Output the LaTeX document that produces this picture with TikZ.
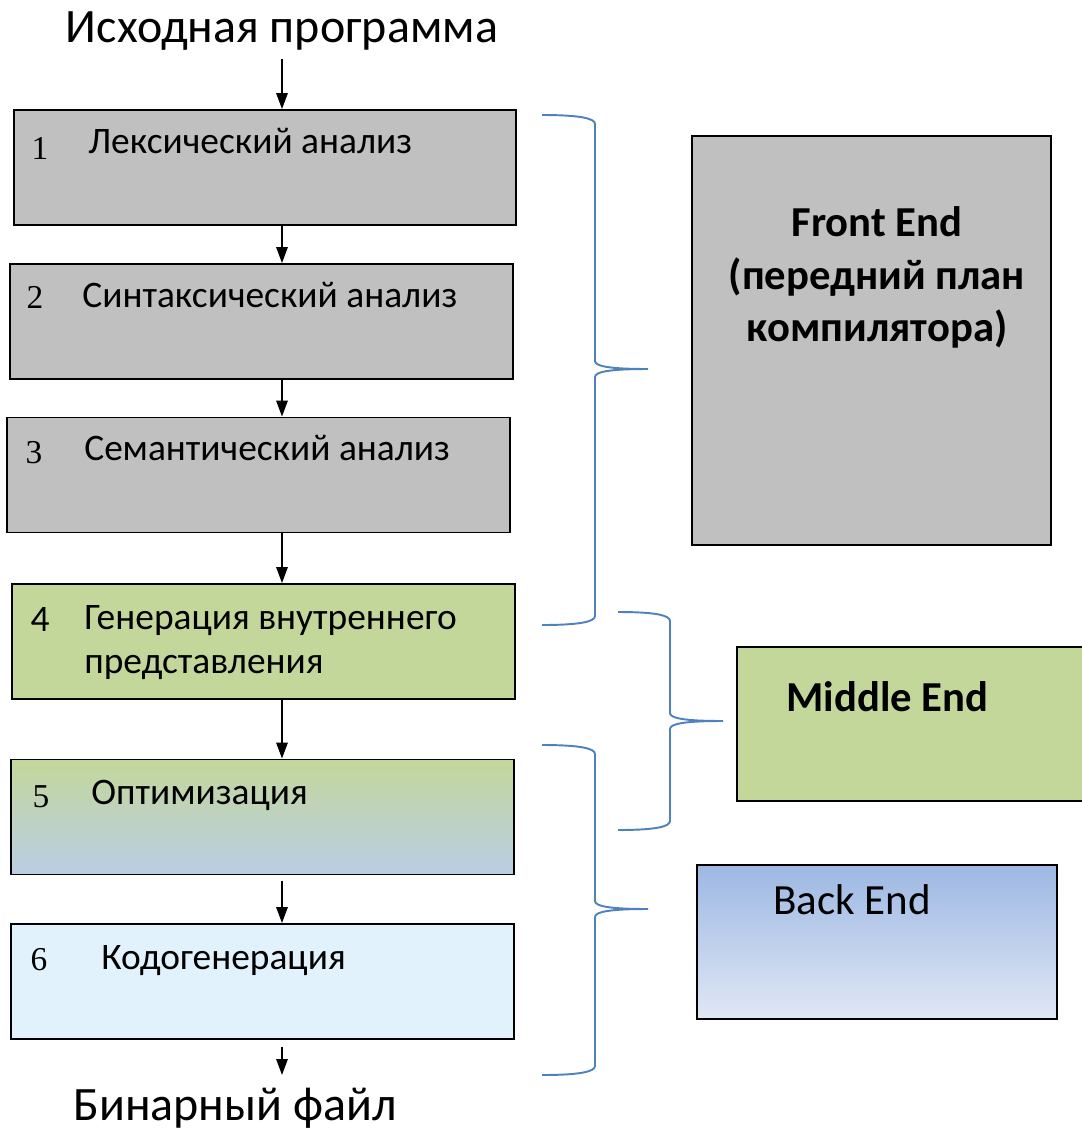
\documentclass[tikz,border=0pt]{standalone}
\usepackage{fontspec}
\setmainfont{Carlito}
\newfontfamily\numfont{Liberation Serif}
\usetikzlibrary{arrows.meta}

\definecolor{stagegray}{HTML}{C0C0C0}
\definecolor{stagegreen}{HTML}{C4D79B}
\definecolor{stageblue}{HTML}{B9CDE5}
\definecolor{stagesky}{HTML}{E1F2FC}
\definecolor{backtop}{HTML}{9DB8E3}
\definecolor{backbottom}{HTML}{E0E7F5}
\definecolor{bracecol}{HTML}{4F81BD}

\begin{document}
\begin{tikzpicture}[
    x=0.02cm, y=-0.02cm,
    stage/.style={rectangle, draw, line width=1.1pt, minimum width=10.06cm, minimum height=2.3cm, inner sep=0pt},
    part/.style={rectangle, draw, line width=1.1pt, minimum height=3.08cm, inner sep=0pt},
    num/.style={anchor=base, font=\numfont\fontsize{19}{21}\selectfont, inner sep=0pt},
    txt/.style={anchor=base west, font=\fontsize{21.3}{24.5}\selectfont, inner sep=0pt, align=left},
    big/.style={anchor=base, font=\fontsize{27.3}{31}\selectfont, inner sep=0pt},
    head/.style={anchor=base, font=\bfseries\fontsize{24.3}{29.6}\selectfont, inner sep=0pt, align=center},
    arrow/.style={-{Triangle[width=6.5pt,length=9pt]}, line width=0.8pt},
    brace/.style={bracecol, line width=1.1pt}
]

\useasboundingbox (0,0) rectangle (1082,1130);

% Input and output
\node[big] (src) at (282,42) {Исходная программа};
\node[big] (bin) at (235,1120) {Бинарный файл};

%==============================================================================
% Compiler phases
%==============================================================================
\node[stage, fill=stagegray] (lex) at (265,167.5) {};
\node[stage, fill=stagegray] (syn) at (261.5,321.5) {};
\node[stage, fill=stagegray] (sem) at (258.5,475) {};
\node[stage, fill=stagegreen] (ir) at (263.5,641.5) {};
\node[stage, top color=stagegreen, bottom color=stageblue] (opt) at (262.5,817) {};
\node[stage, fill=stagesky] (gen) at (262.5,981.5) {};

% Phase numbers and names
\node[num] (n1) at (40,159) {1};
\node[txt] (t1) at (88,153) {Лексический анализ};
\node[num] (n2) at (35,308) {2};
\node[txt] (t2) at (82,307) {Синтаксический анализ};
\node[num] (n3) at (34,463) {3};
\node[txt] (t3) at (84,460) {Семантический анализ};
\node[txt, anchor=base] (n4) at (40,631) {4};
\node[txt] (t4) at (84,673) {Генерация внутреннего\\представления};
\node[num] (n5) at (41,807) {5};
\node[txt] (t5) at (91,804) {Оптимизация};
\node[num] (n6) at (39,970) {6};
\node[txt] (t6) at (101,969) {Кодогенерация};

% Arrows between phases
\draw[arrow, shorten <=5pt] (src.south) -- (lex.north -| src.south);
\draw[arrow] (lex.south -| src.south) -- (syn.north -| src.south);
\draw[arrow] (syn.south -| src.south) -- (sem.north -| src.south);
\draw[arrow] (sem.south -| src.south) -- (ir.north -| src.south);
\draw[arrow] (ir.south -| src.south) -- (opt.north -| src.south);
\draw[arrow, shorten <=3pt] (opt.south -| src.south) -- (gen.north -| src.south);
\draw[arrow, shorten <=4pt, shorten >=7pt] (gen.south -| src.south) -- (bin.north -| src.south);

%==============================================================================
% Compiler parts
%==============================================================================
\node[part, fill=stagegray, minimum width=7.18cm, minimum height=8.18cm] (front) at (871.5,340.5) {};
\node[part, fill=stagegreen, minimum width=6.94cm] (middle) at (910.5,724) {};
\node[part, top color=backtop, bottom color=backbottom, minimum width=7.2cm] (back) at (877,942) {};

\node[head] (fetext) at (877,341) {Front End\\(передний план\\компилятора)};
\node[head, anchor=base west] (metext) at (786,711) {Middle End};
\node[txt, font=\fontsize{24.5}{29}\selectfont] (betext) at (773,914) {Back End};

% Braces
\draw[brace] (542,115) .. controls (578,115) and (595,118) .. (595,124)
    -- (595,361) .. controls (595,366) and (608,369) .. (648,369)
    .. controls (608,369) and (595,372) .. (595,377)
    -- (595,616) .. controls (595,622) and (578,625) .. (542,625);
\draw[brace] (618,612) .. controls (654,612) and (670,615) .. (670,621)
    -- (670,713) .. controls (670,718) and (683,721) .. (723,721)
    .. controls (683,721) and (670,724) .. (670,729)
    -- (670,821) .. controls (670,827) and (654,830) .. (618,830);
\draw[brace] (542,745) .. controls (578,745) and (595,748) .. (595,754)
    -- (595,901) .. controls (595,906) and (608,909) .. (648,909)
    .. controls (608,909) and (595,912) .. (595,917)
    -- (595,1066) .. controls (595,1072) and (578,1075) .. (542,1075);

\end{tikzpicture}
\end{document}
